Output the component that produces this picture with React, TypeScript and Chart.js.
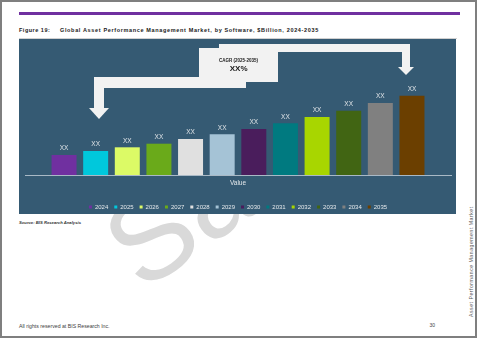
import React, { useEffect, useRef } from 'react';
import { Chart, registerables } from 'chart.js';

Chart.register(...registerables);

const FONT = '"Liberation Sans", Arial, Helvetica, sans-serif';

const categories = ['Value'];
const years = ['2024', '2025', '2026', '2027', '2028', '2029', '2030', '2031', '2032', '2033', '2034', '2035'];
const marketValues = [2.0, 2.4, 2.77, 3.13, 3.6, 4.07, 4.6, 5.17, 5.8, 6.43, 7.2, 7.93];
const barLabels = ['XX', 'XX', 'XX', 'XX', 'XX', 'XX', 'XX', 'XX', 'XX', 'XX', 'XX', 'XX'];
const barColors = [
  '#7030a0', '#00c8dc', '#dcfa66', '#6aaa1a', '#e0e0e0', '#a5c3d6',
  '#4a1d5c', '#007a80', '#a8d600', '#416513', '#808080', '#6b3f00',
];
const yMin = 0;
const yMax = 10;
const cagrTitle = 'CAGR (2025-2035)';
const cagrValue = 'XX%';

const valueLabelPlugin = {
  id: 'valueLabels',
  afterDatasetsDraw(chart: any) {
    const { ctx } = chart;
    ctx.save();
    ctx.font = `6.5px ${FONT}`;
    ctx.fillStyle = '#dde2e6';
    ctx.textAlign = 'center';
    ctx.textBaseline = 'middle';
    chart.data.datasets.forEach((_ds: any, i: number) => {
      const meta = chart.getDatasetMeta(i);
      meta.data.forEach((el: any) => {
        ctx.fillText(barLabels[i], el.x, el.y - 6.5);
      });
    });
    ctx.restore();
  },
};

const calloutPlugin = {
  id: 'cagrCallout',
  afterDraw(chart: any) {
    const { ctx } = chart;
    ctx.save();
    ctx.fillStyle = '#f2f2f2';
    const rect = (x1: number, y1: number, x2: number, y2: number) => ctx.fillRect(x1, y1, x2 - x1, y2 - y1);
    const tri = (ax: number, ay: number, bx: number, by: number, cx: number, cy: number) => {
      ctx.beginPath();
      ctx.moveTo(ax, ay);
      ctx.lineTo(bx, by);
      ctx.lineTo(cx, cy);
      ctx.closePath();
      ctx.fill();
    };
    // right bent arrow
    rect(200, 5, 391, 13);
    rect(383, 5, 391, 28);
    tri(379, 28, 395, 28, 387, 36);
    // text box
    rect(180, 9, 259, 43);
    // left bent arrow
    rect(75, 38, 227, 49);
    rect(75, 38, 85, 69);
    tri(70, 69, 90, 69, 80, 80);
    // text
    ctx.fillStyle = '#1a1a1a';
    ctx.textAlign = 'center';
    ctx.textBaseline = 'middle';
    ctx.font = `bold 4.5px ${FONT}`;
    ctx.fillText(cagrTitle, 219.6, 21.7);
    ctx.font = `bold 8px ${FONT}`;
    ctx.fillText(cagrValue, 219.6, 30.2);
    ctx.restore();
  },
};

export default function App() {
  const canvasRef = useRef<HTMLCanvasElement>(null);

  useEffect(() => {
    const canvas = canvasRef.current;
    if (!canvas) return;
    const chart = new Chart(canvas, {
      type: 'bar',
      data: {
        labels: categories,
        datasets: years.map((y, i) => ({
          label: y,
          data: [marketValues[i]],
          backgroundColor: barColors[i],
          borderWidth: 0,
          barPercentage: 0.79,
          categoryPercentage: 0.891,
        })),
      },
      options: {
        responsive: false,
        animation: false,
        devicePixelRatio: 1,
        layout: { padding: { left: 6, right: 5, top: 36, bottom: 0 } },
        plugins: {
          legend: {
            position: 'bottom',
            labels: {
              color: '#e4e8eb',
              font: { size: 6, family: FONT },
              boxWidth: 3,
              boxHeight: 3,
              padding: 6,
            },
          },
          tooltip: { enabled: false },
        },
        scales: {
          x: {
            grid: { display: false, drawTicks: false },
            border: { display: true, color: '#a9b9c6', width: 1 },
            ticks: { color: '#e4e8eb', font: { size: 6.5, family: FONT }, padding: 4.1 },
            title: { display: true, text: '', font: { size: 2 }, padding: { top: 0, bottom: 4.6 } },
          },
          y: { display: false, min: yMin, max: yMax },
        },
      },
      plugins: [valueLabelPlugin, calloutPlugin],
    } as any);
    return () => chart.destroy();
  }, []);

  return (
    <div
      style={{
        position: 'fixed', left: 0, top: 0, width: 480, height: 339,
        background: '#ffffff', overflow: 'hidden', fontFamily: FONT,
      }}
    >
      {/* watermark and side text */}
      <svg width={480} height={339} style={{ position: 'absolute', left: 0, top: 0 }}>
        <defs>
          <clipPath id="wmClip">
            <rect x={0} y={214} width={480} height={125} />
          </clipPath>
        </defs>
        <g clipPath="url(#wmClip)">
          <text
            x={142} y={293} fontSize={120} fill="#d9d9d9" fontFamily={FONT}
            transform="rotate(-35 142 293)"
          >
            Sample
          </text>
        </g>
        <text
          x={473} y={317} fontSize={5.2} fill="#595959" fontFamily={FONT} letterSpacing={0.5}
          transform="rotate(-90 473 317)"
        >
          Asset Performance Management Market
        </text>
      </svg>

      {/* page border */}
      <div style={{ position: 'absolute', left: 0, top: 0, width: 473, height: 334, border: '2px solid #7f7f7f' }} />

      {/* purple rule */}
      <div style={{ position: 'absolute', left: 19, top: 12, width: 441, height: 3, background: '#7030a0' }} />

      {/* title */}
      <div style={{ position: 'absolute', left: 19, top: 27, fontSize: 5.5, lineHeight: '6px', fontWeight: 'bold', color: '#1a1a1a', letterSpacing: 0.5, whiteSpace: 'nowrap' }}>
        Figure 19:
      </div>
      <div style={{ position: 'absolute', left: 60, top: 27, fontSize: 5.5, lineHeight: '6px', fontWeight: 'bold', color: '#1a1a1a', letterSpacing: 0.65, whiteSpace: 'nowrap' }}>
        Global Asset Performance Management Market, by Software, $Billion, 2024-2035
      </div>
      <div style={{ position: 'absolute', left: 19, top: 38, width: 438, height: 1, background: '#d0d0d0' }} />

      {/* chart box */}
      <div style={{ position: 'absolute', left: 19, top: 39, width: 437, height: 175, overflow: 'hidden', background: '#355a73' }}>
        <canvas ref={canvasRef} width={437} height={181} style={{ display: 'block', width: 437, height: 181 }} />
      </div>

      {/* source */}
      <div style={{ position: 'absolute', left: 19, top: 219.5, fontSize: 4.2, lineHeight: '5px', fontStyle: 'italic', fontWeight: 'bold', color: '#333333', whiteSpace: 'nowrap' }}>
        Source: BIS Research Analysis
      </div>

      {/* footer */}
      <div style={{ position: 'absolute', left: 19, top: 323, fontSize: 5.2, lineHeight: '6px', color: '#404040', whiteSpace: 'nowrap' }}>
        All rights reserved at BIS Research Inc.
      </div>
      <div style={{ position: 'absolute', left: 429.5, top: 322.5, fontSize: 5, lineHeight: '5px', color: '#404040', whiteSpace: 'nowrap' }}>
        30
      </div>
    </div>
  );
}
